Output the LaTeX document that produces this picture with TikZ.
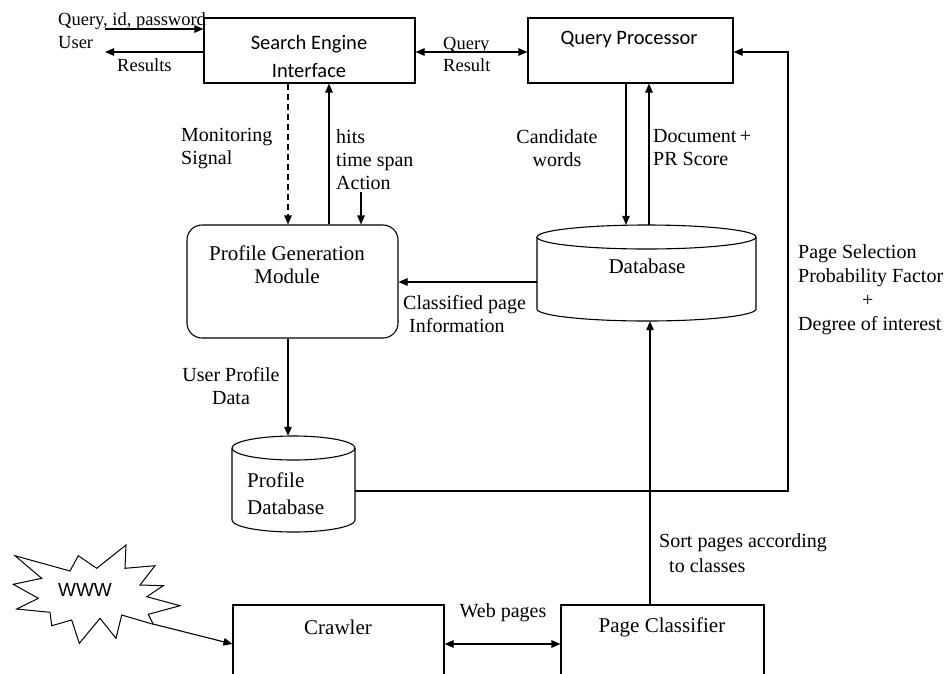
\documentclass[tikz,border=0pt]{standalone}
\usepackage{fontspec}
\setmainfont{Liberation Serif}
\newfontfamily\calfont{Carlito}
\newfontfamily\arialfont{Liberation Sans}
\usetikzlibrary{arrows.meta,calc}
\begin{document}
\begin{tikzpicture}[x=1pt,y=1pt,
  box/.style={draw, line width=1.1pt, inner sep=0pt},
  lbl/.style={inner sep=0pt, font=\fontsize{20}{23}\selectfont},
  small/.style={inner sep=0pt, font=\fontsize{18.5}{21}\selectfont},
  sanslbl/.style={inner sep=0pt, font=\calfont\fontsize{20.5}{28}\selectfont},
  conn/.style={line width=1.1pt},
  arr/.style={conn, -{Triangle[length=9pt,width=7.5pt]}},
  darr/.style={conn, {Triangle[length=9pt,width=7.5pt]}-{Triangle[length=9pt,width=7.5pt]}},
]
\useasboundingbox (0,0) rectangle (952,-673);
\clip (0,0) rectangle (952,-673);

% boxes
\node[box, minimum width=211pt, minimum height=65pt] (sei) at (309.5,-50.5) {};
\node[sanslbl, align=center] (seit) at (309,-56) {Search Engine\\Interface};
\node[box, minimum width=205pt, minimum height=65pt] (qp) at (630.5,-50.5) {};
\node[sanslbl] (qpt) at (629,-39) {Query Processor};
\node[box, rounded corners=15pt, minimum width=211pt, minimum height=113pt] (pgm) at (292.5,-281.5) {};
\node[lbl, align=center, font=\fontsize{21}{23}\selectfont] (pgmt) at (287,-264.5) {Profile Generation\\Module};

% database cylinder
\node[minimum width=219pt, minimum height=96pt, inner sep=0pt] (db) at (646.5,-273) {};
\draw[line width=1.1pt] (537,-237) -- (537,-309) arc(180:360:109.5 and 12) -- (756,-237);
\draw[line width=1.1pt] (646.5,-237) ellipse (109.5 and 12);
\node[lbl, font=\fontsize{21}{23}\selectfont] (dbt) at (647,-266) {Database};

% profile database cylinder
\node[minimum width=123pt, minimum height=96pt, inner sep=0pt] (pdb) at (293.5,-484) {};
\draw[line width=1.1pt] (232,-448) -- (232,-520) arc(180:360:61.5 and 12) -- (355,-448);
\draw[line width=1.1pt] (293.5,-448) ellipse (61.5 and 12);
\node[lbl, align=left, anchor=west, font=\fontsize{21}{27}\selectfont] (pdbt) at (247,-493.5) {Profile\\Database};

% crawler and page classifier
\node[box, minimum width=211pt, minimum height=90pt] (cr) at (338.5,-650) {};
\node[lbl, font=\fontsize{21}{23}\selectfont] (crt) at (338,-627) {Crawler};
\node[box, minimum width=203pt, minimum height=90pt] (pc) at (662.5,-650) {};
\node[lbl, font=\fontsize{21}{23}\selectfont] (pct) at (662,-627) {Page Classifier};

% WWW starburst
\draw[line width=1pt, line join=miter] (15,-555.7) -- (70,-571) -- (78.3,-555.7) -- (96.7,-568.3)
  -- (126,-545) -- (125,-568.3) -- (155,-565.7) -- (140,-585) -- (163.3,-585.7)
  -- (146.7,-596.7) -- (180,-605.7) -- (148.3,-614.3) -- (153.3,-624.3)
  -- (121.7,-615) -- (116,-638.3) -- (100,-618.3) -- (79.3,-643.3) -- (71.7,-620)
  -- (51.7,-625.7) -- (50,-612.3) -- (16.7,-609) -- (38.3,-598.3) -- (13.3,-584.3)
  -- (41.7,-578.3) -- cycle;
\node[inner sep=0pt, font=\arialfont\fontsize{19}{22}\selectfont] (www) at (85,-590) {WWW};

% helper coordinates
\coordinate (u1) at (105,-29);
\coordinate (u2) at (105,-52);
\coordinate (y52) at (0,-52);
\coordinate (xa) at (288,0);
\coordinate (xb) at (329,0);
\coordinate (act) at (361,-192);
\coordinate (xd) at (626,0);
\coordinate (xe) at (649,0);
\coordinate (xf) at (788,0);
\coordinate (xg) at (650,0);
\coordinate (y282) at (0,-282);
\coordinate (y491) at (0,-491);
\coordinate (y644) at (0,-644);
\coordinate (wt) at (153,-624);

% connectors
\draw[arr] (u1) -- (u1 -| sei.west);
\draw[arr] (u2 -| sei.west) -- (u2);
\draw[darr] (y52 -| sei.east) -- (y52 -| qp.west);
\draw[arr, dash pattern=on 6pt off 4pt] (sei.south -| xa) -- (pgm.north -| xa);
\draw[arr] (pgm.north -| xb) -- (sei.south -| xb);
\draw[arr] (act) -- (pgm.north -| act);
\draw[arr] (qp.south -| xd) -- (db.north -| xd);
\draw[arr] (db.north -| xe) -- (qp.south -| xe);
\draw[arr] (y282 -| db.west) -- (y282 -| pgm.east);
\draw[arr] (pgm.south -| xa) -- (pdb.north -| xa);
\draw[arr] (y491 -| pdb.east) -| (y52 -| xf) -- (y52 -| qp.east);
\draw[arr] (pc.north -| xg) -- (db.south -| xg);
\draw[arr] (wt) -- (y644 -| cr.west);
\draw[darr] (y644 -| cr.east) -- (y644 -| pc.west);

% labels
\node[small, anchor=base west] (ql) at (58,-25) {Query, id, password};
\node[small, anchor=base west] (ul) at (58,-48) {User};
\node[small, anchor=base west] (rl) at (117,-71) {Results};
\node[small, anchor=base west] (qrl1) at (443,-49) {Query};
\node[small, anchor=base west] (qrl2) at (443,-71) {Result};
\node[lbl, align=left, anchor=west] (mon) at (181,-148.5) {Monitoring\\Signal};
\node[lbl, align=left, anchor=west] (hits) at (336,-160) {hits\\time span\\Action};
\node[lbl, align=center] (cand) at (557,-148) {Candidate\\words};
\node[lbl, align=left, anchor=west] (doc) at (653,-148) {Document\,+\\PR Score};
\node[lbl, align=left, anchor=west] (cls) at (403,-314) {Classified page\\\hspace*{6pt}Information};
\node[lbl, align=left, anchor=west, font=\fontsize{20}{24}\selectfont] (psel) at (798,-290) {Page Selection\\Probability Factor\\\hspace*{64pt}+\\Degree of interest};
\node[lbl, align=center] (upd) at (231,-386) {User Profile\\Data};
\node[lbl, align=left, anchor=west, font=\fontsize{20}{25}\selectfont] (sort) at (659,-553.5) {Sort pages according\\\hspace*{10pt}to classes};
\node[lbl] (webp) at (503,-613) {Web pages};
\end{tikzpicture}
\end{document}
